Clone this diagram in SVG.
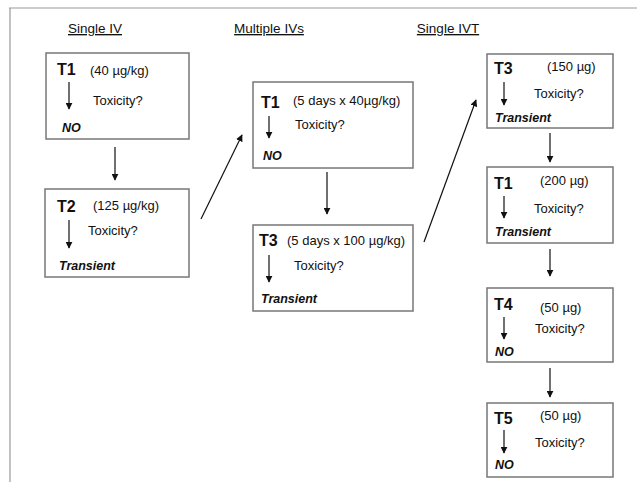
<svg xmlns="http://www.w3.org/2000/svg" width="637" height="494" viewBox="0 0 637 494">
<defs>
<marker id="ah" viewBox="0 0 10 10" refX="9" refY="5" markerWidth="7" markerHeight="7" markerUnits="userSpaceOnUse" orient="auto">
<path d="M0,0 L10,5 L0,10 z" fill="#111"/>
</marker>
<style>
text{font-family:"Liberation Sans",Arial,sans-serif;fill:#111}
.title{font-size:13.5px;text-decoration:underline}
.box{fill:#fff;stroke:#777;stroke-width:1.5}
.t{font-size:16px;font-weight:bold}
.d{font-size:13px}
.q{font-size:13px}
.r{font-size:12.5px;font-weight:bold;font-style:italic}
.a{stroke:#111;stroke-width:1.2;fill:none;marker-end:url(#ah)}
</style>
</defs>
<rect width="637" height="494" fill="#fff"/>
<path d="M9,8 H637 M10,8 V482" stroke="#999" stroke-width="1.2" fill="none"/>
<text class="title" x="95" y="33" text-anchor="middle">Single IV</text>
<text class="title" x="269" y="33" text-anchor="middle">Multiple IVs</text>
<text class="title" x="448" y="33" text-anchor="middle">Single IVT</text>

<g id="n1">
<rect class="box" x="46" y="53" width="143" height="86"/>
<text class="t" x="57" y="75">T1</text>
<text class="d" x="90" y="75">(40 µg/kg)</text>
<line class="a" x1="69" y1="82" x2="69" y2="109"/>
<text class="q" x="93" y="105">Toxicity?</text>
<text class="r" x="62" y="132">NO</text>
</g>
<g id="n2">
<rect class="box" x="45" y="189" width="144" height="88"/>
<text class="t" x="57" y="212">T2</text>
<text class="d" x="93" y="210">(125 µg/kg)</text>
<line class="a" x1="69" y1="220" x2="69" y2="248"/>
<text class="q" x="88" y="235">Toxicity?</text>
<text class="r" x="59" y="270">Transient</text>
</g>
<g id="n3">
<rect class="box" x="253" y="82" width="160" height="86"/>
<text class="t" x="261" y="108">T1</text>
<text class="d" x="293" y="105">(5 days x 40µg/kg)</text>
<line class="a" x1="269" y1="116" x2="269" y2="138"/>
<text class="q" x="295" y="129">Toxicity?</text>
<text class="r" x="263" y="160">NO</text>
</g>
<g id="n4">
<rect class="box" x="253" y="225" width="160" height="86"/>
<text class="t" x="259" y="246">T3</text>
<text class="d" x="287" y="245">(5 days x 100 µg/kg)</text>
<line class="a" x1="269" y1="255" x2="269" y2="282"/>
<text class="q" x="294" y="270">Toxicity?</text>
<text class="r" x="261" y="303">Transient</text>
</g>
<g id="n5">
<rect class="box" x="487" y="54" width="126" height="74"/>
<text class="t" x="494" y="74">T3</text>
<text class="d" x="547" y="71">(150 µg)</text>
<line class="a" x1="504" y1="82" x2="504" y2="105"/>
<text class="q" x="534" y="98">Toxicity?</text>
<text class="r" x="495" y="122">Transient</text>
</g>
<g id="n6">
<rect class="box" x="487" y="167" width="126" height="76"/>
<text class="t" x="494" y="189">T1</text>
<text class="d" x="540" y="185">(200 µg)</text>
<line class="a" x1="504" y1="196" x2="504" y2="218"/>
<text class="q" x="534" y="213">Toxicity?</text>
<text class="r" x="495" y="236">Transient</text>
</g>
<g id="n7">
<rect class="box" x="487" y="288" width="126" height="74"/>
<text class="t" x="494" y="310">T4</text>
<text class="d" x="540" y="312">(50 µg)</text>
<line class="a" x1="504" y1="317" x2="504" y2="339"/>
<text class="q" x="535" y="333">Toxicity?</text>
<text class="r" x="495" y="356">NO</text>
</g>
<g id="n8">
<rect class="box" x="487" y="403" width="126" height="74"/>
<text class="t" x="494" y="424">T5</text>
<text class="d" x="540" y="420">(50 µg)</text>
<line class="a" x1="504" y1="430" x2="504" y2="453"/>
<text class="q" x="535" y="447">Toxicity?</text>
<text class="r" x="495" y="469">NO</text>
</g>

<g id="connectors">
<line class="a" x1="115" y1="147" x2="115" y2="180"/>
<line class="a" x1="201" y1="219" x2="242" y2="135"/>
<line class="a" x1="327" y1="172" x2="327" y2="214"/>
<line class="a" x1="424" y1="242" x2="476" y2="100"/>
<line class="a" x1="550" y1="133" x2="550" y2="162"/>
<line class="a" x1="550" y1="249" x2="550" y2="276"/>
<line class="a" x1="550" y1="368" x2="550" y2="397"/>
</g>
</svg>
